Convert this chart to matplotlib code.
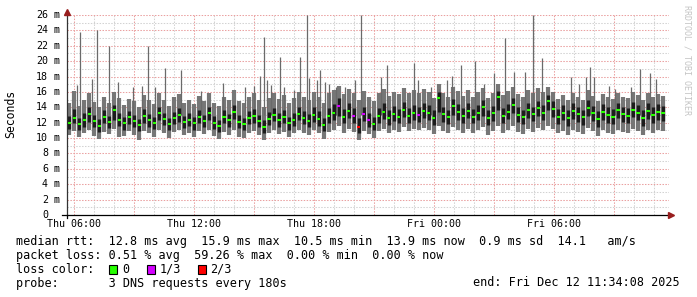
import numpy as np
import matplotlib.pyplot as plt
from matplotlib import transforms
from matplotlib.patches import Rectangle

W, H = 697, 297
MONO = 'DejaVu Sans Mono'

# time is in hours since Thu 00:00
t_start, t_end = 5.65, 35.57
x_left, x_right = 5.65, 35.75

tick_hours = [6, 12, 18, 24, 30]
tick_labels = ['Thu 06:00', 'Thu 12:00', 'Thu 18:00', 'Fri 00:00', 'Fri 06:00']
y_ticks = list(range(0, 27, 2))

# 120 bins of ~15 min, values in ms
median = [
    12.0, 12.6, 11.8, 12.3, 13.1, 12.2, 11.6, 12.8, 12.1, 13.6, 12.4, 11.9, 12.7, 12.2, 11.7, 12.9, 12.3, 12.0, 13.3, 12.5, 11.8, 12.6, 13.0, 12.1,
    12.4, 11.9, 12.8, 12.2, 13.2, 12.0, 11.6, 12.7, 12.3, 13.4, 12.1, 11.8, 12.6, 12.9, 12.2, 11.5, 12.5, 13.0, 12.3, 12.8, 11.9, 12.4, 13.1, 12.6,
    12.2, 13.0, 12.5, 11.7, 12.9, 13.3, 14.2, 12.8, 13.5, 12.9, 11.4, 13.1, 12.4, 11.8, 12.9, 13.4, 12.6, 13.1, 12.8, 13.6, 12.9, 13.3, 13.0, 13.5,
    13.2, 12.6, 15.2, 13.1, 12.7, 14.2, 13.4, 12.9, 13.5, 12.8, 13.3, 14.0, 12.6, 13.2, 15.3, 12.9, 13.4, 14.3, 13.0, 12.7, 13.6, 13.1, 13.9, 13.3,
    14.8, 13.8, 12.8, 13.3, 12.6, 13.5, 13.1, 12.7, 13.9, 13.2, 12.5, 13.4, 13.0, 12.8, 13.6, 13.1, 12.9, 13.7, 13.3, 12.6, 13.5, 13.0, 13.4, 13.2,
]
smoke_lo = [
    10.4, 10.9, 10.2, 10.6, 11.0, 10.3, 9.9, 10.8, 10.5, 11.2, 10.1, 10.3, 10.9, 10.4, 9.8, 10.9, 10.6, 10.2, 11.1, 10.7, 10.0, 10.8, 11.0, 10.4,
    10.6, 10.2, 10.9, 10.5, 11.1, 10.3, 9.9, 10.8, 10.4, 11.0, 10.2, 10.0, 10.7, 10.9, 10.4, 9.8, 10.6, 11.0, 10.5, 10.8, 10.1, 10.6, 11.0, 10.7,
    10.4, 11.0, 10.6, 9.9, 10.8, 11.1, 11.6, 10.7, 11.2, 10.8, 9.8, 10.9, 10.5, 10.0, 10.9, 11.2, 10.7, 11.0, 10.8, 11.4, 10.9, 11.2, 11.0, 11.3,
    11.0, 10.5, 11.6, 10.9, 10.6, 11.5, 11.1, 10.7, 11.2, 10.6, 11.0, 11.4, 10.4, 10.9, 11.6, 10.7, 11.1, 11.6, 10.8, 10.5, 11.2, 10.8, 11.3, 11.0,
    11.6, 11.2, 10.6, 10.9, 10.4, 11.0, 10.8, 10.5, 11.3, 10.9, 10.3, 11.0, 10.7, 10.5, 11.1, 10.8, 10.6, 11.2, 10.9, 10.4, 11.0, 10.7, 11.0, 10.9,
]
smoke_hi = [
    14.6, 16.1, 14.2, 15.0, 15.8, 14.7, 14.0, 15.4, 14.5, 16.0, 15.2, 14.3, 15.1, 14.8, 14.1, 15.6, 14.9, 14.4, 15.9, 15.0, 14.2, 15.3, 15.7, 14.6,
    15.0, 14.4, 15.5, 14.8, 15.9, 14.6, 14.2, 15.4, 14.9, 16.2, 14.8, 14.5, 15.3, 15.8, 15.0, 14.1, 15.2, 15.9, 15.1, 15.6, 14.6, 15.2, 16.0, 15.4,
    15.0, 16.0, 15.4, 14.6, 15.9, 16.3, 16.8, 15.7, 16.4, 15.8, 14.9, 16.1, 15.3, 14.8, 15.8, 16.4, 15.5, 16.0, 15.7, 16.5, 15.8, 16.2, 15.9, 16.4,
    16.0, 15.2, 17.0, 15.8, 15.3, 16.6, 16.1, 15.5, 16.2, 15.4, 16.0, 16.5, 15.2, 15.9, 17.0, 15.6, 16.1, 16.7, 15.7, 15.3, 16.3, 15.8, 16.5, 16.0,
    16.6, 16.0, 15.1, 15.6, 14.9, 15.8, 15.4, 15.0, 16.2, 15.5, 14.8, 15.7, 15.3, 15.1, 15.9, 15.4, 15.2, 16.0, 15.6, 14.9, 15.8, 15.3, 15.7, 15.5,
]
core_lo = [
    11.2, 12.0, 11.0, 11.5, 12.1, 11.4, 10.8, 11.9, 11.3, 12.4, 11.6, 11.1, 11.8, 11.4, 10.9, 12.0, 11.5, 11.2, 12.3, 11.7, 11.0, 11.8, 12.1, 11.3,
    11.6, 11.1, 12.0, 11.4, 12.3, 11.2, 10.8, 11.9, 11.5, 12.5, 11.3, 11.0, 11.8, 12.0, 11.4, 10.7, 11.7, 12.2, 11.5, 12.0, 11.1, 11.6, 12.3, 11.8,
    11.4, 12.1, 11.6, 10.9, 12.0, 12.4, 12.9, 11.9, 12.6, 12.0, 10.7, 12.2, 11.5, 11.0, 12.0, 12.5, 11.7, 12.2, 11.9, 12.7, 12.0, 12.4, 12.1, 12.6,
    12.3, 11.7, 13.4, 12.1, 11.8, 13.0, 12.4, 12.0, 12.6, 11.9, 12.3, 12.9, 11.7, 12.2, 13.6, 12.0, 12.5, 13.2, 12.1, 11.8, 12.6, 12.2, 12.9, 12.3,
    13.6, 12.8, 11.8, 12.3, 11.6, 12.5, 12.1, 11.7, 12.9, 12.2, 11.5, 12.4, 12.0, 11.8, 12.6, 12.1, 11.9, 12.7, 12.3, 11.6, 12.5, 12.0, 12.4, 12.2,
]
core_hi = [
    12.9, 13.8, 12.6, 13.2, 14.0, 13.0, 12.5, 13.6, 12.9, 14.3, 13.2, 12.7, 13.5, 13.0, 12.5, 13.8, 13.1, 12.8, 14.1, 13.3, 12.6, 13.4, 13.9, 12.9,
    13.2, 12.8, 13.7, 13.0, 14.1, 12.9, 12.4, 13.6, 13.1, 14.3, 13.0, 12.6, 13.5, 13.8, 13.0, 12.3, 13.4, 13.9, 13.2, 13.7, 12.7, 13.2, 14.0, 13.5,
    13.1, 14.1, 13.5, 12.6, 13.9, 14.4, 15.2, 13.8, 14.6, 13.9, 12.6, 14.1, 13.3, 12.7, 13.9, 14.5, 13.6, 14.2, 13.8, 14.7, 13.9, 14.3, 14.0, 14.6,
    14.3, 13.6, 16.0, 14.1, 13.7, 15.1, 14.4, 13.9, 14.5, 13.8, 14.3, 14.9, 13.6, 14.2, 16.1, 13.9, 14.4, 15.2, 14.0, 13.7, 14.6, 14.1, 14.8, 14.3,
    15.6, 14.8, 13.8, 14.3, 13.6, 14.5, 14.1, 13.7, 14.9, 14.2, 13.5, 14.4, 14.0, 13.8, 14.6, 14.1, 13.9, 14.7, 14.3, 13.6, 14.5, 14.0, 14.4, 14.2,
]
loss_13 = [54, 57, 59, 60, 70]   # bins with 1/3 loss
loss_23 = [58]                   # bins with 2/3 loss

# single tall outliers (hour, ms)
spike_hours = [6.15, 6.30, 6.90, 7.15, 7.75, 8.20, 8.95, 9.40, 9.70, 10.05,
               10.55, 11.35, 12.35, 13.45, 14.55, 15.00, 15.30, 15.50, 15.65, 15.85,
               16.30, 16.50, 17.00, 17.30, 17.65, 17.75, 18.15, 18.30, 18.55, 18.75,
               19.10, 19.55, 20.05, 20.35, 21.35, 21.65, 23.00, 23.20, 23.85, 24.25,
               24.65, 24.90, 25.35, 26.05, 26.50, 27.00, 27.55, 28.00, 28.55, 28.95,
               29.40, 30.85, 31.25, 31.60, 31.80, 32.00, 32.75, 33.05, 33.85, 34.30,
               34.80, 35.10]
spike_ms = [16.9, 23.8, 17.7, 24.1, 22.0, 17.3, 16.6, 16.8, 22.0, 16.6,
            19.1, 18.9, 16.1, 17.2, 16.7, 16.8, 18.1, 23.2, 17.6, 16.9,
            20.6, 16.7, 16.3, 20.6, 26.0, 17.8, 17.5, 18.9, 17.3, 17.0,
            16.7, 16.6, 17.5, 26.0, 18.0, 19.5, 19.8, 17.6, 16.6, 16.4,
            17.5, 18.1, 19.5, 20.0, 17.0, 18.4, 23.0, 18.6, 18.6, 26.0,
            20.4, 18.0, 17.0, 18.0, 19.3, 18.0, 16.8, 16.4, 16.7, 19.0,
            18.5, 17.7]

stats_lines = [
    'median rtt:  12.8 ms avg  15.9 ms max  10.5 ms min  13.9 ms now  0.9 ms sd  14.1   am/s',
    'packet loss: 0.51 % avg  59.26 % max  0.00 % min  0.00 % now',
]
probe_text = 'probe:       3 DNS requests every 180s'
end_text = 'end: Fri Dec 12 11:34:08 2025'
loss_legend = [('#26ff00', '0'), ('#d400ff', '1/3'), ('#ff0000', '2/3')]

# ---------------------------------------------------------------
fig = plt.figure(figsize=(W / 100, H / 100), dpi=100)
fig.patch.set_facecolor('white')
ax = fig.add_axes([67 / W, 82 / H, (669 - 67) / W, 200 / H])
ax.set_xlim(x_left, x_right)
ax.set_ylim(0, 26)

# grid
for h in np.arange(6, 36, 1):
    major = (h % 3 == 0)
    ax.axvline(h, color='#eaa0a0' if major else '#d2d2d2', lw=0.75,
               ls=(0, (1.4, 1.4)), zorder=0)
for v in range(1, 27):
    major = (v % 2 == 0)
    ax.axhline(v, color='#eaa0a0' if major else '#d2d2d2', lw=0.75,
               ls=(0, (1.4, 1.4)), zorder=0)

edges = np.linspace(t_start, t_end, len(median) + 1)
centers = 0.5 * (edges[:-1] + edges[1:])

# smoke: grey extent, thin outliers, dark core, median dashes
ax.vlines(centers, smoke_lo, smoke_hi, color='#767676', lw=3.0, zorder=2)
ax.vlines(spike_hours, 13, spike_ms, color='#6a6a6a', lw=0.9, zorder=3)
ax.vlines(centers, core_lo, core_hi, color='#1c1c1c', lw=2.4, zorder=4)

colors = ['#26ff00'] * len(median)
for i in loss_13:
    colors[i] = '#d400ff'
for i in loss_23:
    colors[i] = '#ff0000'
ax.hlines(median, centers - 0.08, centers + 0.08, colors=colors, lw=1.5, zorder=5)

# axes
for s in ['top', 'right']:
    ax.spines[s].set_visible(False)
ax.spines['bottom'].set_color('black')
ax.spines['left'].set_color('#333333')
ax.spines['bottom'].set_linewidth(0.9)
ax.spines['left'].set_linewidth(0.9)
ax.spines['bottom'].set_zorder(6)
ax.spines['left'].set_zorder(6)
ax.plot([x_right + 0.08], [0], marker='>', color='#981e1e', ms=4.5, clip_on=False, zorder=7)
ax.plot([x_left], [26.35], marker='^', color='#981e1e', ms=4.5, clip_on=False, zorder=7)
ax.plot([x_left - 0.25, x_left], [0, 0], color='black', lw=0.9, clip_on=False)
ax.plot([x_left, x_left], [0, -0.4], color='black', lw=0.9, clip_on=False)

ax.set_xticks(tick_hours, tick_labels, fontfamily=MONO, fontsize=7.2)
ax.tick_params(axis='x', length=0, pad=3.2)
ax.set_yticks([])

ty = transforms.blended_transform_factory(fig.transFigure, ax.transData)
for v in y_ticks:
    ax.text(48 / W, v, str(v), transform=ty, ha='right', va='center',
            fontfamily=MONO, fontsize=7.2)
    if v:
        ax.text(54 / W, v, 'm', transform=ty, ha='left', va='center',
                fontfamily=MONO, fontsize=7.2)

fig.text(11 / W, 1 - 114 / H, 'Seconds', rotation=90, ha='center', va='center',
         fontfamily=MONO, fontsize=8.3)
fig.text(687 / W, 1 - 60 / H, 'RRDTOOL / TOBI OETIKER', rotation=270, ha='center',
         va='center', fontfamily=MONO, fontsize=6, color='#c4c4c4')

# legend / stats
fs = 8.5
fig.text(16 / W, 1 - 241.5 / H, stats_lines[0], ha='left', va='center', fontfamily=MONO, fontsize=fs)
fig.text(16 / W, 1 - 255.3 / H, stats_lines[1], ha='left', va='center', fontfamily=MONO, fontsize=fs)
fig.text(16 / W, 1 - 269.3 / H, 'loss color:', ha='left', va='center', fontfamily=MONO, fontsize=fs)
for (col, lab), sx, lx in zip(loss_legend, [108.5, 146.5, 197.5], [122.5, 159.5, 210.5]):
    fig.patches.append(Rectangle((sx / W, 1 - 273.5 / H), 8.5 / W, 8.5 / H,
                                 transform=fig.transFigure, facecolor=col,
                                 edgecolor='black', lw=0.8))
    fig.text(lx / W, 1 - 269.3 / H, lab, ha='left', va='center', fontfamily=MONO, fontsize=fs)
fig.text(16 / W, 1 - 283 / H, probe_text, ha='left', va='center', fontfamily=MONO, fontsize=fs)
fig.text(680 / W, 1 - 283 / H, end_text, ha='right', va='center', fontfamily=MONO, fontsize=fs)

fig.savefig('out.png', dpi=100)
